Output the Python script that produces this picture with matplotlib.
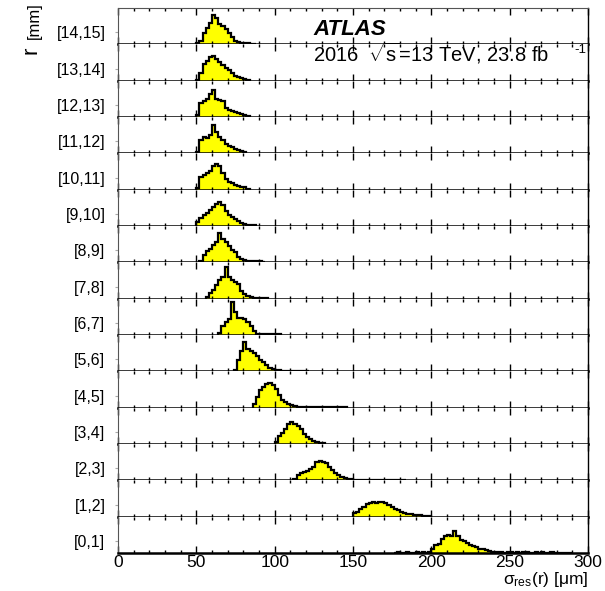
import numpy as np
import matplotlib
matplotlib.use('Agg')
import matplotlib.pyplot as plt
from matplotlib.ticker import MultipleLocator

plt.rcParams['font.family'] = ['Liberation Sans', 'DejaVu Sans']
plt.rcParams['mathtext.fontset'] = 'custom'
plt.rcParams['mathtext.rm'] = 'Liberation Sans'
plt.rcParams['mathtext.it'] = 'Liberation Sans:italic'

# radial slices, bottom to top
r_labels = ['[0,1]', '[1,2]', '[2,3]', '[3,4]', '[4,5]', '[5,6]', '[6,7]', '[7,8]',
            '[8,9]', '[9,10]', '[10,11]', '[11,12]', '[12,13]', '[13,14]', '[14,15]']

# sigma_res histograms, 2 um bins, first bin edge per slice (um)
BIN_W = 2.0
starts = [176, 150, 112, 100, 86, 74, 64, 56, 52, 50, 50, 50, 50, 50, 50]

h_0_1 = [0.01, 0.02, 0.01, 0.01, 0.02, 0.01, 0.01, 0.02, 0.01, 0.02, 0.01, 0.02,
         0.12, 0.22, 0.24, 0.38, 0.47, 0.49, 0.47, 0.61, 0.48, 0.36, 0.32, 0.28,
         0.22, 0.18, 0.16, 0.12, 0.10, 0.07, 0.05, 0.04, 0.03,
         0.02, 0.02, 0.01, 0.02, 0.02, 0.01, 0.02, 0.01, 0.02, 0.02, 0.01, 0.01,
         0.02, 0.01, 0.02, 0.01, 0.01, 0.02, 0.01, 0.01, 0.01, 0.0, 0.01, 0.01]
h_1_2 = [0.10, 0.14, 0.20, 0.27, 0.34, 0.38, 0.39, 0.38, 0.40, 0.40, 0.37, 0.32,
         0.26, 0.22, 0.17, 0.14, 0.10, 0.08, 0.06, 0.05, 0.04, 0.04, 0.03, 0.02, 0.01]
h_2_3 = [0.05, 0.16, 0.20, 0.22, 0.25, 0.30, 0.38, 0.50, 0.52, 0.51, 0.48, 0.36,
         0.28, 0.20, 0.14, 0.10, 0.06, 0.04,
         0.03, 0.02, 0.02, 0.02, 0.02, 0.01, 0.02, 0.02, 0.01, 0.02, 0.02, 0.01,
         0.02, 0.02, 0.01, 0.02, 0.01, 0.02]
h_3_4 = [0.06, 0.22, 0.30, 0.40, 0.55, 0.60, 0.56, 0.50, 0.42, 0.28, 0.20, 0.14,
         0.09, 0.06, 0.04, 0.02]
h_4_5 = [0.10, 0.30, 0.49, 0.58, 0.65, 0.67, 0.62, 0.52, 0.36, 0.22, 0.15, 0.10,
         0.06, 0.04, 0.03, 0.02, 0.03, 0.02, 0.02, 0.03, 0.02, 0.02, 0.03, 0.02,
         0.02, 0.03, 0.02, 0.02, 0.03, 0.02]
h_5_6 = [0.05, 0.30, 0.55, 0.82, 0.62, 0.56, 0.50, 0.42, 0.32, 0.25, 0.17, 0.10,
         0.06, 0.03, 0.03, 0.02, 0.02, 0.02, 0.02, 0.01, 0.02, 0.01, 0.02, 0.01]
h_6_7 = [0.06, 0.25, 0.37, 0.45, 0.92, 0.64, 0.46, 0.48, 0.45, 0.35, 0.25, 0.12,
         0.04, 0.03, 0.03, 0.03, 0.02, 0.02, 0.02, 0.02]
h_7_8 = [0.04, 0.15, 0.25, 0.38, 0.52, 0.60, 0.86, 0.60, 0.52, 0.46, 0.40, 0.20,
         0.12, 0.07, 0.04, 0.03, 0.02, 0.02, 0.02, 0.01]
h_8_9 = [0.03, 0.20, 0.30, 0.38, 0.48, 0.55, 0.80, 0.64, 0.55, 0.45, 0.35, 0.28,
         0.16, 0.10, 0.06, 0.04, 0.03, 0.03, 0.04, 0.03, 0.02]
h_9_10 = [0.10, 0.22, 0.30, 0.36, 0.45, 0.52, 0.60, 0.66, 0.58, 0.42, 0.30, 0.24,
          0.18, 0.14, 0.08, 0.05, 0.04, 0.03, 0.02]
h_10_11 = [0.05, 0.35, 0.40, 0.45, 0.50, 0.66, 0.70, 0.64, 0.45, 0.28, 0.20, 0.17,
           0.14, 0.10, 0.07, 0.06, 0.03]
h_11_12 = [0.05, 0.38, 0.46, 0.42, 0.50, 0.78, 0.60, 0.45, 0.38, 0.26, 0.21, 0.17,
           0.13, 0.10, 0.06, 0.04]
h_12_13 = [0.05, 0.38, 0.44, 0.50, 0.62, 0.75, 0.50, 0.48, 0.45, 0.26, 0.20, 0.17,
           0.13, 0.11, 0.07, 0.05, 0.02]
h_13_14 = [0.02, 0.20, 0.45, 0.55, 0.65, 0.69, 0.60, 0.50, 0.44, 0.36, 0.28, 0.20,
           0.13, 0.09, 0.06, 0.04, 0.02]
h_14_15 = [0.03, 0.10, 0.32, 0.45, 0.60, 0.80, 0.72, 0.55, 0.50, 0.42, 0.30, 0.20,
           0.10, 0.06, 0.04, 0.03, 0.03, 0.02, 0.01]

heights = [h_0_1, h_1_2, h_2_3, h_3_4, h_4_5, h_5_6, h_6_7, h_7_8,
           h_8_9, h_9_10, h_10_11, h_11_12, h_12_13, h_13_14, h_14_15]

n = len(r_labels)
fig, axes = plt.subplots(n, 1, sharex=True, figsize=(6.05, 5.91), dpi=100)
fig.subplots_adjust(left=0.195, right=0.972, top=0.9865, bottom=0.0643, hspace=0)

for i, ax in enumerate(axes):
    k = n - 1 - i
    vals = np.array(heights[k])
    edges = starts[k] + BIN_W * np.arange(len(vals) + 1)
    ax.stairs(vals, edges, fill=True, color='#ffff00', lw=0)
    ax.stairs(vals, edges, color='black', lw=1.6)

    ax.set_xlim(0, 300)
    ax.set_ylim(0, 1)
    ax.xaxis.set_major_locator(MultipleLocator(50))
    ax.xaxis.set_minor_locator(MultipleLocator(10))
    ax.tick_params(axis='x', which='both', direction='in', top=True, bottom=True,
                   color='black', width=1, labelsize=12.5, pad=1.5)
    ax.tick_params(axis='x', which='major', length=5)
    ax.tick_params(axis='x', which='minor', length=2.5)
    ax.set_yticks([0.33])
    ax.set_yticklabels([r_labels[k]])
    ax.tick_params(axis='y', direction='out', length=2, color='#aaaaaa',
                   labelsize=11.5, pad=7)

    ax.spines['bottom'].set_linewidth(1.8)
    ax.spines['left'].set_color('#555555')
    ax.spines['right'].set_linewidth(1)
    if i == 0:
        ax.spines['top'].set_color('#555555')
    else:
        ax.spines['top'].set_visible(False)
    if i < n - 1:
        ax.tick_params(axis='x', labelbottom=False)

fig.text(313 / 605, 1 - 35 / 591, 'ATLAS', fontsize=16, fontweight='bold',
         fontstyle='italic', ha='left', va='baseline')
fig.text(313 / 605, 1 - 62 / 591,
         r'2016  $\sqrt{\mathregular{s}}$=13 TeV, 23.8 fb',
         fontsize=14.5, ha='left', va='baseline')
fig.text(574 / 605, 1 - 53 / 591, '-1', fontsize=9.5, ha='left', va='baseline')
fig.text(588 / 605, 1 - 584 / 591, r'σ$_\mathregular{res}$(r) [μm]',
         fontsize=12.5, ha='right', va='baseline')
fig.text(42 / 605, 1 - 54 / 591, 'r', fontsize=16, rotation=90, ha='right', va='bottom')
fig.text(42 / 605, 1 - 39 / 591, '[mm]', fontsize=12, rotation=90, ha='right', va='bottom')

fig.savefig('out.png', dpi=100)
